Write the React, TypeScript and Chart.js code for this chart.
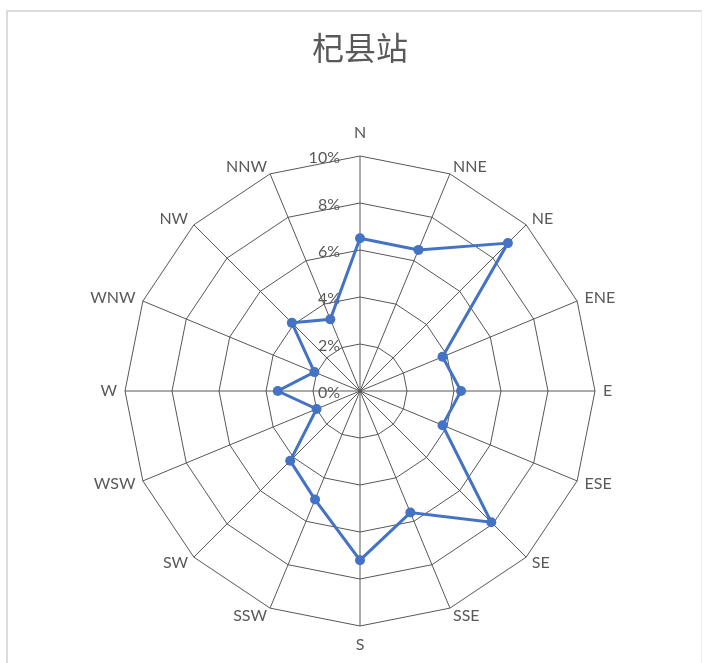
import React, { useEffect, useRef } from "react";
import { Chart, registerables } from "chart.js";

Chart.register(...registerables);

// Wind direction frequency (%) for each of the 16 compass points
const directions = [
  "N", "NNE", "NE", "ENE", "E", "ESE", "SE", "SSE",
  "S", "SSW", "SW", "WSW", "W", "WNW", "NW", "NNW",
];
const frequency = [6.5, 6.5, 8.9, 3.8, 4.3, 3.8, 7.9, 5.6, 7.2, 5.0, 4.2, 2.0, 3.5, 2.1, 4.1, 3.3];

// Radial rings and their labels
const ringValues = [0, 2, 4, 6, 8, 10];
const ringLabels = ringValues.map((v) => `${v}%`);

const TITLE = "杞县站";
const TEXT_GRAY = "#595959";
const GRID = "#575757";
const SERIES = "#4472C4";
const LABEL_FONT = "Lato, 'Open Sans', sans-serif";

// Ring labels drawn just left of the north spoke, under the data line
const ringLabelPlugin = {
  id: "ringLabels",
  beforeDatasetsDraw(chart: any) {
    const s = chart.scales.r;
    const ctx = chart.ctx;
    ctx.save();
    ctx.font = `16px ${LABEL_FONT}`;
    ctx.fillStyle = TEXT_GRAY;
    ctx.textAlign = "right";
    ctx.textBaseline = "middle";
    ringValues.forEach((v, i) => {
      const d = s.getDistanceFromCenterForValue(v);
      ctx.fillText(ringLabels[i], s.xCenter - 20, s.yCenter - d + 2);
    });
    ctx.restore();
  },
};

// Compass labels: vertically centred on a point just outside the outer ring,
// pushed left/right depending on which side of the chart they sit.
const directionLabelPlugin = {
  id: "directionLabels",
  afterDraw(chart: any) {
    const s = chart.scales.r;
    const ctx = chart.ctx;
    const R = s.drawingArea;
    ctx.save();
    ctx.font = `16px ${LABEL_FONT}`;
    ctx.fillStyle = TEXT_GRAY;
    ctx.textBaseline = "middle";
    directions.forEach((label, i) => {
      const gap = i === 0 ? 23 : i === 8 ? 19 : 8;
      const p = s.getPointPosition(i, R + gap);
      const dx = p.x - s.xCenter;
      ctx.textAlign = Math.abs(dx) < 1 ? "center" : dx > 0 ? "left" : "right";
      ctx.fillText(label, p.x, p.y);
    });
    ctx.restore();
  },
};

export default function App() {
  const canvasRef = useRef<HTMLCanvasElement | null>(null);

  useEffect(() => {
    if (!canvasRef.current) return;
    const chart = new Chart(canvasRef.current, {
      type: "radar",
      data: {
        labels: directions,
        datasets: [
          {
            data: frequency,
            borderColor: SERIES,
            backgroundColor: SERIES,
            borderWidth: 3,
            fill: false,
            pointRadius: 5,
            pointBorderWidth: 0,
            pointBackgroundColor: SERIES,
            tension: 0,
          },
        ],
      },
      options: {
        responsive: false,
        animation: false,
        layout: { padding: { left: 12, right: 0, top: 0, bottom: 37 } },
        plugins: {
          legend: { display: false },
          tooltip: { enabled: false },
          title: {
            display: true,
            text: TITLE,
            color: TEXT_GRAY,
            font: { family: "'Noto Sans CJK SC', sans-serif", size: 32, weight: "normal", lineHeight: 1.2 },
            padding: { top: 29, bottom: 88.6 },
          },
        },
        scales: {
          r: {
            min: 0,
            max: 10,
            ticks: { stepSize: 2, display: false },
            grid: { circular: false, color: GRID, lineWidth: 1 },
            angleLines: { display: true, color: GRID, lineWidth: 1 },
            pointLabels: { display: false },
          },
        },
      },
      plugins: [ringLabelPlugin, directionLabelPlugin],
    });
    return () => chart.destroy();
  }, []);

  return (
    <div style={{ position: "fixed", left: 0, top: 0, width: 708, height: 663, background: "#fff" }}>
      <div
        style={{
          position: "absolute",
          left: 6,
          top: 10,
          width: 696,
          height: 660,
          borderTop: "2px solid #dcdcdc",
          borderLeft: "2px solid #dcdcdc",
          borderRight: "1px solid #f0f0f0",
          boxSizing: "border-box",
        }}
      />
      <canvas ref={canvasRef} width={708} height={663} style={{ position: "absolute", left: 0, top: 0 }} />
    </div>
  );
}
